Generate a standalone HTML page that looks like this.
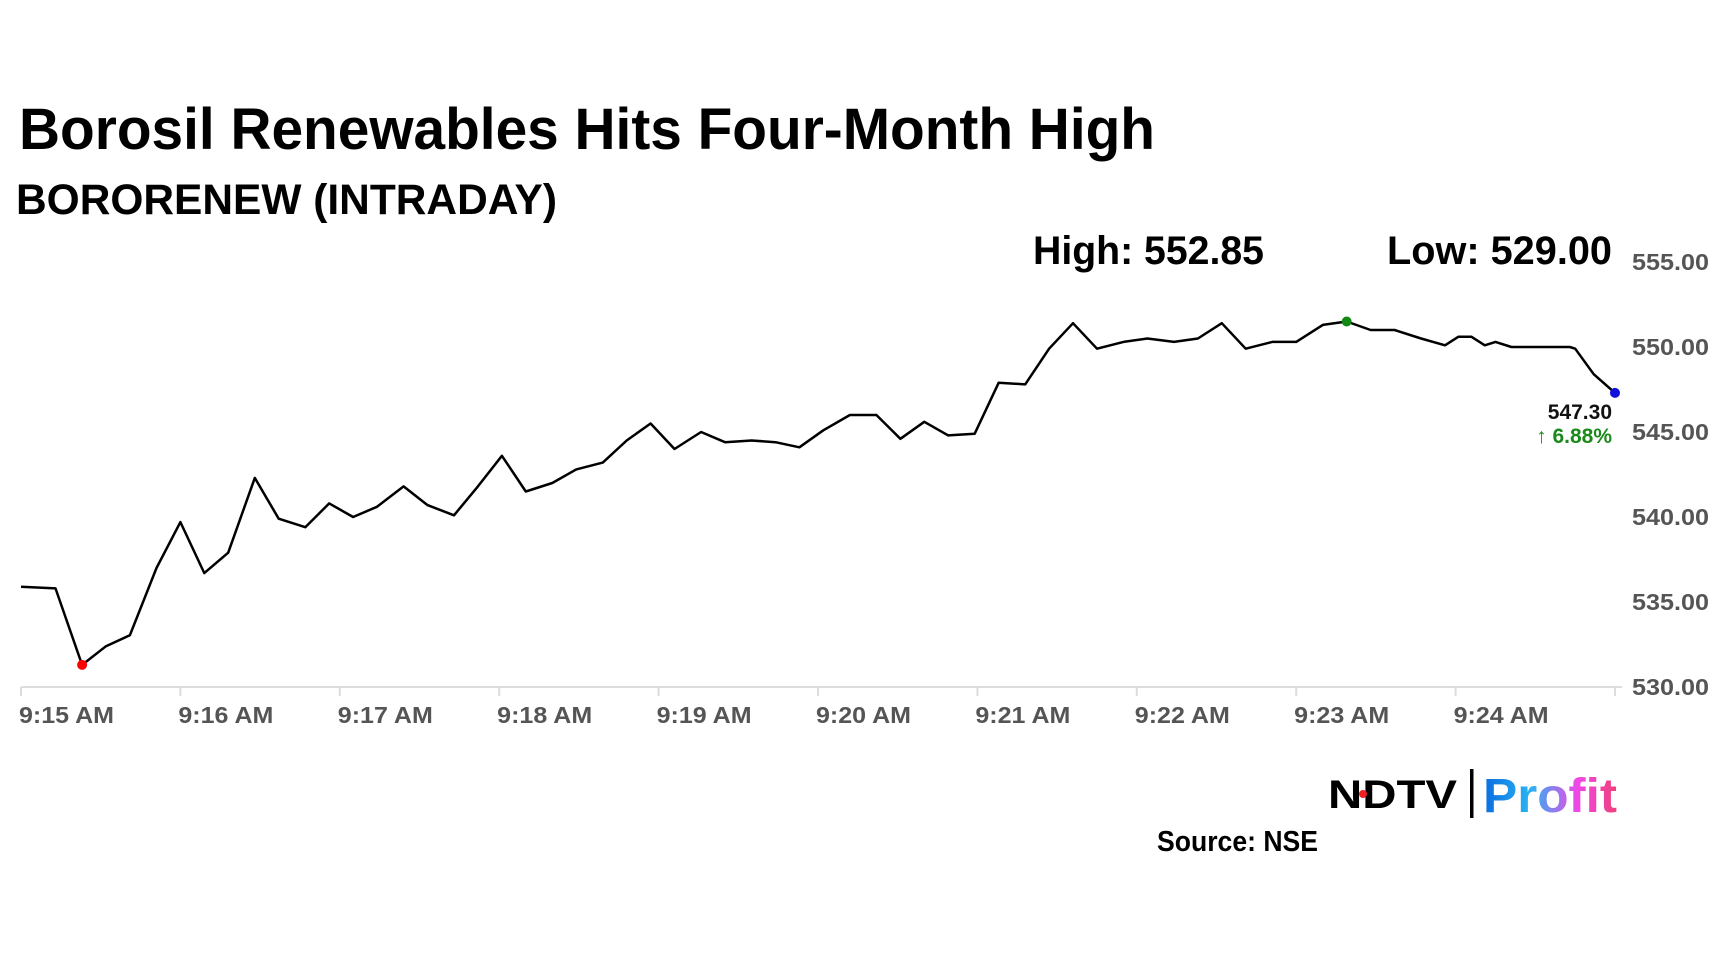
<!DOCTYPE html>
<html><head><meta charset="utf-8"><style>
html,body{margin:0;padding:0;background:#fff}
svg{display:block;font-family:"Liberation Sans",sans-serif}
</style></head><body>
<svg id="chart" width="1728" height="972" viewBox="0 0 1728 972">
<text x="19" y="149" font-size="58" font-weight="bold" textLength="1136" lengthAdjust="spacingAndGlyphs">Borosil Renewables Hits Four-Month High</text>
<text x="16" y="214" font-size="43" font-weight="bold" textLength="541" lengthAdjust="spacingAndGlyphs">BORORENEW (INTRADAY)</text>
<text x="1033" y="264" font-size="40" font-weight="bold" textLength="231" lengthAdjust="spacingAndGlyphs">High: 552.85</text>
<text x="1387" y="264" font-size="40" font-weight="bold" textLength="225" lengthAdjust="spacingAndGlyphs">Low: 529.00</text>
<g id="axes"></g>
<g id="series"></g>
<text x="1612" y="419" font-size="21" font-weight="bold" text-anchor="end" fill="#111">547.30</text>
<text x="1612" y="443" font-size="21" font-weight="bold" text-anchor="end" fill="#1a8a1a">↑ 6.88%</text>
<g>
<text x="1328" y="808" font-size="40" font-weight="bold" textLength="129" lengthAdjust="spacingAndGlyphs">NDTV</text>
<circle cx="1363" cy="794" r="4" fill="#e22"/>
<rect x="1470" y="769" width="3.5" height="49" fill="#000"/>
<defs><linearGradient id="pg" x1="0" x2="1"><stop offset="0" stop-color="#0a6be0"/><stop offset="0.35" stop-color="#28b4f2"/><stop offset="0.7" stop-color="#f048e8"/><stop offset="1" stop-color="#f0407a"/></linearGradient></defs>
<text x="1483" y="812" font-size="48" font-weight="bold" fill="url(#pg)" textLength="134" lengthAdjust="spacingAndGlyphs">Profit</text>
</g>
<text x="1157" y="851" font-size="29" font-weight="bold" textLength="161" lengthAdjust="spacingAndGlyphs">Source: NSE</text>
</svg>
<script>
const times=[0,13,23,32,41,51,60,69,78,88,97,107,116,125,134,144,153,163,172,181,190,200,209,219,228,237,246,256,265,275,284,293,302,312,322,331,340,349,359,368,378,387,396,405,415,424,434,443,452,461,471,480,490,499,508,517,527,536,541,546,551,555,561,573,583,585,592,600];
const prices=[535.9,535.8,531.3,532.4,533.05,537.0,539.7,536.7,537.9,542.3,539.9,539.4,540.8,540.0,540.6,541.8,540.7,540.1,541.8,543.6,541.5,542.0,542.8,543.2,544.5,545.5,544.0,545.0,544.4,544.5,544.4,544.1,545.1,546.0,546.0,544.6,545.6,544.8,544.9,547.9,547.8,549.9,551.4,549.9,550.3,550.5,550.3,550.5,551.4,549.9,550.3,550.3,551.3,551.5,551.0,551.0,550.5,550.1,550.6,550.6,550.1,550.3,550.0,550.0,550.0,549.9,548.4,547.3];
const yTicks=[530,535,540,545,550,555];
const xTickLabels=["9:15 AM","9:16 AM","9:17 AM","9:18 AM","9:19 AM","9:20 AM","9:21 AM","9:22 AM","9:23 AM","9:24 AM"];
const NS="http://www.w3.org/2000/svg";
const X0=21,PXMIN=159.4,Y0=687,PX5=85;
function x(s){return X0+s/60*PXMIN;}
function y(v){return Y0-(v-530)/5*PX5;}
function mk(tag,attrs,parent){const e=document.createElementNS(NS,tag);for(const k in attrs)e.setAttribute(k,attrs[k]);parent.appendChild(e);return e;}
const axes=document.getElementById('axes'),series=document.getElementById('series');
const axisLine=mk('line',{x1:X0,x2:1622,y1:Y0,y2:Y0,stroke:'#ddd','stroke-width':2},axes);


yTicks.forEach(v=>{
  const t=mk('text',{x:1632,y:y(v)+8,'font-size':23,'font-weight':'bold',fill:'#555',textLength:77,lengthAdjust:'spacingAndGlyphs'},axes);
  
  
  t.textContent=v.toFixed(2);
});
xTickLabels.forEach((lab,i)=>{
  const tx=x(i*60);
  const tk=mk('line',{x1:tx,x2:tx,y1:Y0,y2:Y0+9,stroke:'#ddd','stroke-width':2},axes);
  
  
  const t=mk('text',{x:tx-2,y:723,'font-size':23,'font-weight':'bold',fill:'#555',textLength:95,lengthAdjust:'spacingAndGlyphs'},axes);
  
  
  t.textContent=lab;
});
const endTick=mk('line',{x1:x(600),x2:x(600),y1:Y0,y2:Y0+9,stroke:'#ddd','stroke-width':2},axes);


const d=times.map((t,i)=>(i?'L':'M')+x(t).toFixed(1)+','+y(prices[i]).toFixed(1)).join(' ');
const line=mk('path',{d:d,fill:'none',stroke:'#000','stroke-width':2.5,'stroke-linejoin':'round'},series);


let lo=0,hi=0;prices.forEach((p,i)=>{if(p<prices[lo])lo=i;if(p>prices[hi])hi=i;});
const lowDot=mk('circle',{cx:x(times[lo]),cy:y(prices[lo]),r:5,fill:'#f00'},series);


const hiDot=mk('circle',{cx:x(times[hi]),cy:y(prices[hi]),r:5,fill:'#118811'},series);


const n=prices.length-1;
const lastDot=mk('circle',{cx:x(times[n]),cy:y(prices[n]),r:5,fill:'#1010dd'},series);


</script>
</body></html>
